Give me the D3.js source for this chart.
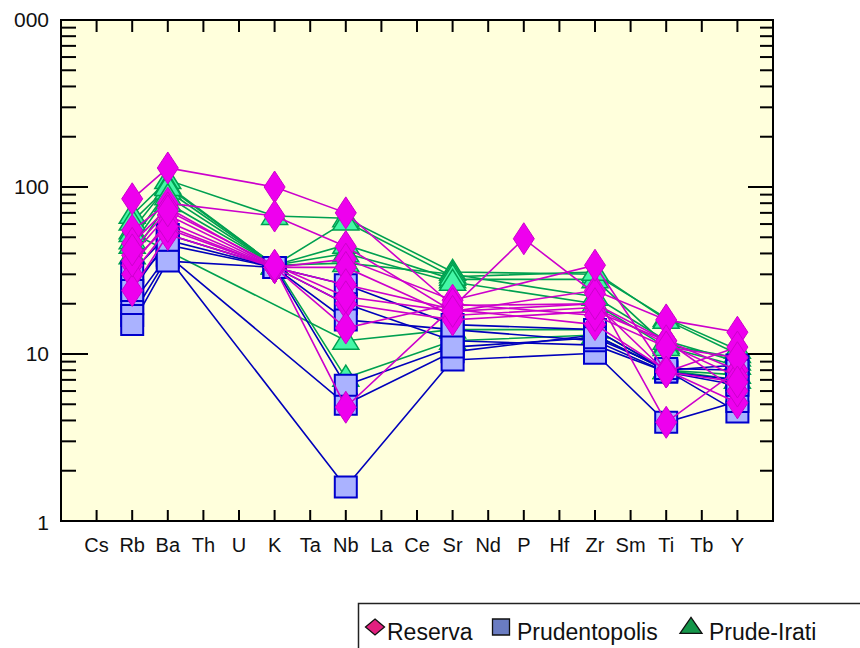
<!DOCTYPE html>
<html>
<head>
<meta charset="utf-8">
<script src="https://cdn.jsdelivr.net/npm/d3@7"></script>
<style>
  html, body { margin: 0; padding: 0; background: #ffffff; }
  svg { display: block; font-family: "Liberation Sans", Arial, sans-serif; }
</style>
</head>
<body>
<svg id="chart" width="860" height="648"></svg>
<script>
// Spider diagram categories (x axis)
const categories = ["Cs","Rb","Ba","Th","U","K","Ta","Nb","La","Ce","Sr","Nd","P","Hf","Zr","Sm","Ti","Tb","Y"];
// Elements actually analysed in each sample, in the order of the sample arrays
const measured = ["Rb","Ba","K","Nb","Sr","P","Zr","Ti","Y"];
// Y axis decades
const yTicks = [1, 10, 100, 1000];

// Reserva samples:             Rb   Ba   K    Nb   Sr   P    Zr   Ti   Y
const reserva = [
  [85, 130, 100, 70,  19.5, null, 20,  12,  8],
  [55,  80,  67, 44,  18,   null, 24,  16,  13.5],
  [46,  75,  33, 4.8, 19,   49,   23,  3.9, 8],
  [39,  68,  33, 37,  21,   null, 34,  7.8, 11],
  [34,  62,  33, 33,  17,   null, 19,  11.5, 7.3],
  [30,  56,  33, 26,  18.5, null, 15,  8,   5.1],
  [24,  52,  33, 20,  16,   null, 18,  12,  6],
  [36,  58,  33, 14.3, 20,  null, 17,  11,  9.5],
  [42,  72,  34, 22,  18,   null, 20,  7.8, 6.8]
];

// Prudentopolis samples:       Rb   Ba   K    Nb   Sr   P    Zr   Ti   Y
const prudentopolis = [
  [31,  52,  33,  26,  15,   null, 14,   8,   8.6],
  [26,  45,  33,  20,  12,   null, 11.3, 7.8, 7],
  [20,  39,  null, 5,  10.3, null, 13,   8,   4.5],
  [17,  38,  null, 1.6, 9.2, null, 10.1, 3.9, 5.2],
  [15,  36,  33,  16,  14,   null, 12,   7.8, 6.5],
  [24,  48,  33,  6.5, 11,   null, 12.5, 8.2, 8]
];

// Prude-Irati samples:         Rb   Ba   K    Nb   Sr   P    Zr   Ti   Y
const prudeIrati = [
  [68, 110,  67,  65,  31,  null, 30,  16.4, 10.6],
  [55, 102,  34,  45,  28,  null, 28,  11.3, 9.5],
  [48,  95,  34,  35,  30,  null, 22,  12,   9],
  [53, null, null, 12, 14,  null, 14,  8,    7],
  [39,  80,  34,  7.2, 12,  null, 13,  8,    7.5],
  [62, 100,  34,  62,  29,  null, 31,  16,   10],
  [45,  88,  34,  40,  27,  null, 20,  11,   8.5]
];

const svg = d3.select("#chart");
const pLeft = 61, pRight = 773, pTop = 20, pBottom = 521;

const x = d3.scalePoint().domain(categories).range([pLeft, pRight]).padding(1);
const y = d3.scaleLog().domain([1, 1000]).range([pBottom, pTop]);

// plot background
svg.append("rect")
  .attr("x", pLeft).attr("y", pTop)
  .attr("width", pRight - pLeft).attr("height", pBottom - pTop)
  .attr("fill", "#ffffdc");

const defs = svg.append("defs");
defs.append("clipPath").attr("id", "plotclip")
  .append("rect").attr("x", pLeft).attr("y", pTop).attr("width", pRight - pLeft).attr("height", pBottom - pTop);
// the value labels sit in a narrow margin box that trims anything wider
defs.append("clipPath").attr("id", "labelclip")
  .append("rect").attr("x", 13.5).attr("y", 0).attr("width", pLeft - 13.5).attr("height", 560);

const plot = svg.append("g").attr("clip-path", "url(#plotclip)");

function points(sample) {
  return sample
    .map((v, i) => ({ el: measured[i], v }))
    .filter(d => d.v != null);
}

const line = d3.line().x(d => x(d.el)).y(d => y(d.v));

const symbols = {
  diamond: (w, h) => `M0,${-h/2}L${w/2},0L0,${h/2}L${-w/2},0Z`,
  square: (w, h) => `M${-w/2},${-h/2}H${w/2}V${h/2}H${-w/2}Z`,
  triangle: (w, h) => `M0,${-h*0.6}L${w/2},${h*0.4}H${-w/2}Z`
};

const groups = [
  { data: prudeIrati, line: "#00a050", fill: "#44f7a6", stroke: "#00a050", sym: symbols.triangle(26, 21), sw: 1.5 },
  { data: prudentopolis, line: "#0000bb", fill: "#aab2ff", stroke: "#0000cc", sym: symbols.square(22, 21), sw: 2 },
  { data: reserva, line: "#cc00cc", fill: "#ee00ee", stroke: "#cc00cc", sym: symbols.diamond(21, 32), sw: 1 }
];

groups.forEach(g => {
  const gg = plot.append("g");
  gg.selectAll("path.ln").data(g.data).join("path")
    .attr("class", "ln")
    .attr("d", d => line(points(d)))
    .attr("fill", "none")
    .attr("stroke", g.line)
    .attr("stroke-width", 1.6);
  g.data.forEach(sample => {
    gg.append("g").selectAll("path.mk").data(points(sample)).join("path")
      .attr("class", "mk")
      .attr("d", g.sym)
      .attr("transform", d => `translate(${x(d.el)},${y(d.v)})`)
      .attr("fill", g.fill)
      .attr("stroke", g.stroke)
      .attr("stroke-width", g.sw);
  });
});

// frame
svg.append("rect")
  .attr("x", pLeft).attr("y", pTop)
  .attr("width", pRight - pLeft).attr("height", pBottom - pTop)
  .attr("fill", "none").attr("stroke", "#000").attr("stroke-width", 2);

// y ticks (major + minor) on both sides, pointing inward
const ax = svg.append("g").attr("stroke", "#000").attr("stroke-width", 2);
const minor = [];
[1, 10, 100].forEach(dec => { for (let k = 2; k <= 9; k++) minor.push(dec * k); });
yTicks.forEach(t => {
  ax.append("line").attr("x1", pLeft).attr("x2", pLeft + 27).attr("y1", y(t)).attr("y2", y(t));
  ax.append("line").attr("x1", pRight).attr("x2", pRight - 25).attr("y1", y(t)).attr("y2", y(t));
});
minor.forEach(t => {
  ax.append("line").attr("x1", pLeft).attr("x2", pLeft + 15).attr("y1", y(t)).attr("y2", y(t));
  ax.append("line").attr("x1", pRight).attr("x2", pRight - 13).attr("y1", y(t)).attr("y2", y(t));
});
// x ticks top and bottom, pointing inward
categories.forEach(c => {
  ax.append("line").attr("x1", x(c)).attr("x2", x(c)).attr("y1", pBottom).attr("y2", pBottom - 11);
  ax.append("line").attr("x1", x(c)).attr("x2", x(c)).attr("y1", pTop).attr("y2", pTop + 12);
});

// y tick labels
svg.append("g").attr("clip-path", "url(#labelclip)")
  .selectAll("text").data(yTicks).join("text")
  .attr("x", 49).attr("y", d => y(d) + (d === 1 ? 2 : 0))
  .attr("dy", "0.35em")
  .attr("text-anchor", "end")
  .attr("font-size", 21)
  .attr("fill", "#111")
  .text(d => d);

// category labels
svg.append("g").selectAll("text").data(categories).join("text")
  .attr("x", d => x(d)).attr("y", 552)
  .attr("text-anchor", "middle")
  .attr("font-size", 20)
  .attr("fill", "#111")
  .text(d => d);

// legend
const lg = svg.append("g");
lg.append("rect").attr("x", 358.5).attr("y", 603.5).attr("width", 560).attr("height", 100)
  .attr("fill", "#fff").attr("stroke", "#222").attr("stroke-width", 1.5);
const legendItems = [
  { label: "Reserva", sym: symbols.diamond(19, 16), fill: "#e2207f", cx: 375, tx: 387 },
  { label: "Prudentopolis", sym: symbols.square(17, 16), fill: "#6a7cc2", cx: 501, tx: 517 },
  { label: "Prude-Irati", sym: symbols.triangle(22, 16), fill: "#15964a", cx: 691, tx: 709 }
];
legendItems.forEach(it => {
  lg.append("path").attr("d", it.sym)
    .attr("transform", `translate(${it.cx},627)`)
    .attr("fill", it.fill).attr("stroke", "#111").attr("stroke-width", 1.3);
  lg.append("text").attr("x", it.tx).attr("y", 640)
    .attr("font-size", 23).attr("fill", "#111").text(it.label);
});
</script>
</body>
</html>
